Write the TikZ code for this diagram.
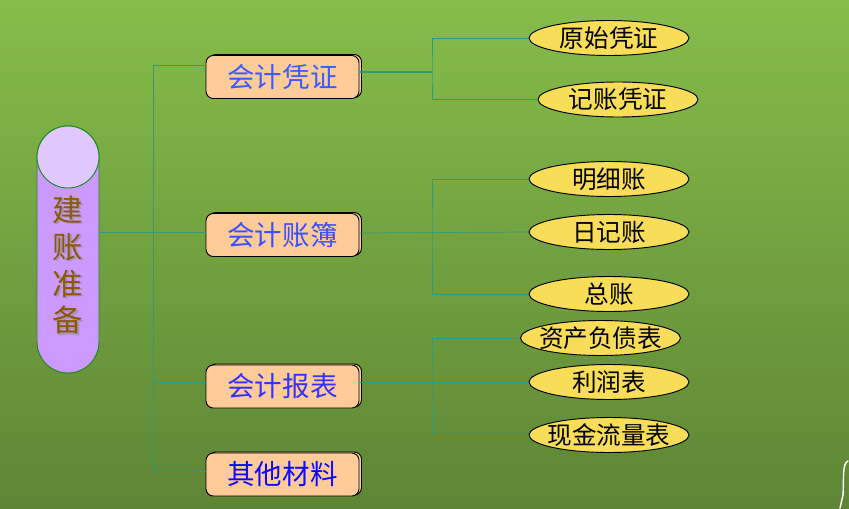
\documentclass[tikz,border=0pt]{standalone}
\usepackage{fontspec}
\setmainfont{Noto Sans CJK SC}
\usetikzlibrary{shapes.geometric,shadows}
\definecolor{bgtop}{HTML}{86BD4A}
\definecolor{bgbot}{HTML}{5E8535}
\definecolor{linkc}{HTML}{2E9C7A}
\definecolor{boxc}{HTML}{FFCC99}
\definecolor{leafc}{HTML}{F8DD58}
\definecolor{pillarc}{HTML}{CC99FF}
\definecolor{pillartop}{HTML}{E0C8FF}
\definecolor{pillarline}{HTML}{1A8A1A}
\definecolor{titlec}{HTML}{8B5A00}

\begin{document}
\begin{tikzpicture}[x=0.03cm,y=-0.03cm,
 link/.style={draw=linkc,line width=0.6pt},
 trunk/.style={draw=linkc,line width=1pt},
 box/.style={draw,line width=0.8pt,fill=boxc,rounded corners=0.22cm,minimum width=4.59cm,minimum height=1.29cm,inner sep=0pt,
  font=\fontsize{23.5}{28}\selectfont,copy shadow={shadow xshift=0.075cm,shadow yshift=0.03cm}},
 leaf/.style={ellipse,draw,line width=0.8pt,fill=leafc,minimum width=4.8cm,minimum height=1.05cm,inner xsep=-0.25cm,inner ysep=-0.15cm,
  font=\fontsize{21}{24}\selectfont}]
\shade[top color=bgtop,bottom color=bgbot] (0,0) rectangle (849,508);
\useasboundingbox (0,0) rectangle (849,508);
\draw[white,line width=1.2pt,line cap=round] (848,461) .. controls (842,463) and (844,480) .. (843,495) -- (840,508);

\node[draw=pillarline,line width=0.8pt,fill=pillarc,rounded corners=0.93cm,minimum width=1.86cm,minimum height=7.41cm] (root) at (68,249.5) {};
\node[circle,draw=pillarline,line width=0.8pt,fill=pillartop,minimum size=1.86cm,inner sep=0pt] (cap) at (68,157) {};
\node[text=black!45,opacity=0.6,align=center,font=\fontsize{26}{31.5}\selectfont] (titleshadow) at (69.5,266.5) {建\\账\\准\\备};
\node[text=titlec,align=center,font=\fontsize{26}{31.5}\selectfont] (title) at (68,265) {建\\账\\准\\备};

\node[box,text={rgb,255:red,58;green,92;blue,255}] (acc1) at (282.5,77) {会计凭证};
\node[box,text={rgb,255:red,58;green,80;blue,255}] (acc2) at (282.5,235) {会计账簿};
\node[box,text={rgb,255:red,51;green,51;blue,255}] (acc3) at (282.5,386.5) {会计报表};
\node[box,text={rgb,255:red,10;green,10;blue,255}] (acc4) at (282.5,474.5) {其他材料};

\node[leaf] (v1) at (609,38) {原始凭证};
\node[leaf] (v2) at (618,99.5) {记账凭证};
\node[leaf] (b1) at (609,179) {明细账};
\node[leaf] (b2) at (609,232) {日记账};
\node[leaf] (b3) at (609,294) {总账};
\node[leaf] (r1) at (600.5,338) {资产负债表};
\node[leaf] (r2) at (609,382) {利润表};
\node[leaf] (r3) at (609,435) {现金流量表};

\coordinate (s1) at (153,65);
\coordinate (s3) at (153,382);
\coordinate (s4) at (153,471);
\draw[link] (s1) -- (s4);
\draw[link] (s1) -- (s1 -| acc1.west);
\draw[link] (root.east |- b2.west) -- (acc2.west |- b2.west);
\draw[link] (s3) -- (s3 -| acc3.west);
\draw[link] (s4) -- (s4 -| acc4.west);

\coordinate (j1) at (432,72);
\coordinate (j2) at (432,233);
\coordinate (j3) at (432,382);
\draw[trunk] (acc1.east |- j1) -- (j1);
\draw[link] (v1.west) -| (j1) |- (v2.west);
\draw[link] (acc2.east |- j2) -- (b2.west);
\draw[link] (b1.west) -| (j2) |- (b3.west);
\draw[link] (acc3.east |- j3) -- (r2.west);
\draw[link] (r1.west) -| (j3) |- (r3.west);
\end{tikzpicture}
\end{document}
